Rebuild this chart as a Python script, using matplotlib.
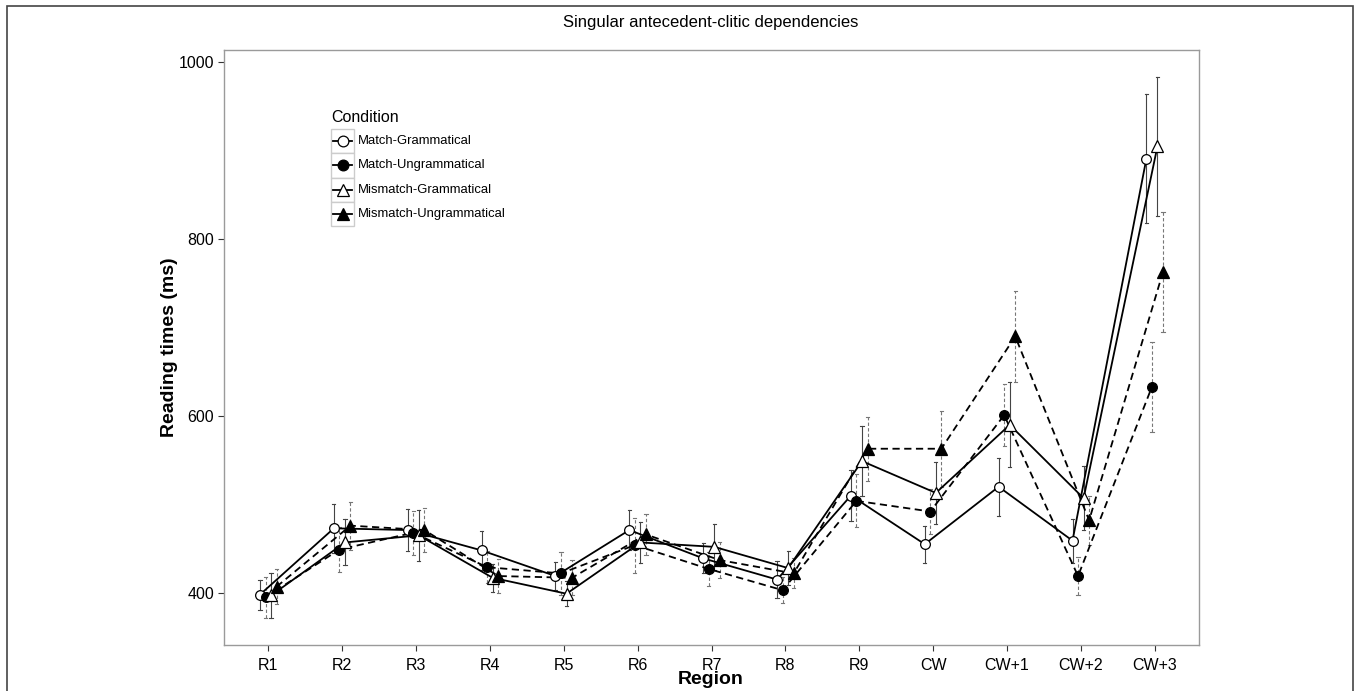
import numpy as np
import matplotlib
matplotlib.use('Agg')
import matplotlib.pyplot as plt
from matplotlib.lines import Line2D
from matplotlib.patches import Rectangle

plt.rcParams['font.family'] = ['Liberation Sans', 'DejaVu Sans']

# data (ms)
regions = ['R1', 'R2', 'R3', 'R4', 'R5', 'R6', 'R7', 'R8', 'R9', 'CW', 'CW+1', 'CW+2', 'CW+3']
conditions = ['Match-Grammatical', 'Match-Ungrammatical', 'Mismatch-Grammatical', 'Mismatch-Ungrammatical']

match_gram = [398, 473, 471, 448, 419, 471, 439, 415, 510, 455, 520, 459, 891]
match_ungram = [395, 449, 468, 429, 422, 454, 427, 403, 504, 492, 601, 419, 633]
mismatch_gram = [397, 457, 465, 417, 399, 457, 452, 428, 549, 513, 590, 507, 905]
mismatch_ungram = [407, 476, 471, 419, 417, 466, 437, 422, 563, 563, 690, 482, 763]

match_gram_err = [17, 28, 24, 22, 16, 23, 17, 21, 29, 21, 33, 25, 73]
match_ungram_err = [23, 25, 25, 18, 24, 31, 19, 15, 30, 25, 35, 22, 51]
mismatch_gram_err = [25, 26, 29, 16, 14, 23, 26, 19, 40, 35, 48, 36, 79]
mismatch_ungram_err = [20, 27, 25, 19, 20, 23, 20, 17, 36, 43, 51, 28, 68]

W, H = 1360, 691


def fx(x):
    return x / W


def fy(y):
    return 1 - y / H


DASH = (0, (4, 2.5))

# marker / line style per condition
styles = [
    dict(marker='o', mfc='white', ms=7, ls='-'),
    dict(marker='o', mfc='black', ms=7, ls=DASH),
    dict(marker='^', mfc='white', ms=8.5, ls='-'),
    dict(marker='^', mfc='black', ms=8.5, ls=DASH),
]
means = [match_gram, match_ungram, mismatch_gram, mismatch_ungram]
errs = [match_gram_err, match_ungram_err, mismatch_gram_err, mismatch_ungram_err]

fig = plt.figure(figsize=(W / 100, H / 100), dpi=100)
ax = fig.add_axes([fx(224), fy(645), fx(1199) - fx(224), fy(50) - fy(645)])

x = np.arange(1, len(regions) + 1)
dodge = 0.3
offsets = (np.arange(4) - 1.5) * dodge / 4
cap = 0.022

for i in range(4):
    xs = x + offsets[i]
    m = np.array(means[i])
    e = np.array(errs[i])
    st = styles[i]
    solid = st['ls'] == '-'
    ecol = '#444444' if solid else '#777777'
    # error bars
    for xx, lo, hi in zip(xs, m - e, m + e):
        ax.plot([xx, xx], [lo, hi], color=ecol, lw=0.8, ls='-' if solid else (0, (3, 2)), zorder=2)
        ax.plot([xx - cap, xx + cap], [lo, lo], color=ecol, lw=0.8, zorder=2)
        ax.plot([xx - cap, xx + cap], [hi, hi], color=ecol, lw=0.8, zorder=2)
    ax.plot(xs, m, color='black', lw=1.3, ls=st['ls'], zorder=3)
    ax.plot(xs, m, ls='none', marker=st['marker'], ms=st['ms'], mfc=st['mfc'],
            mec='black', mew=0.9, zorder=4)

ax.set_xlim(0.4, len(regions) + 0.6)
ax.set_ylim(341, 1014)
ax.set_xticks(x)
ax.set_xticklabels(regions)
ax.set_yticks([400, 600, 800, 1000])

for sp in ax.spines.values():
    sp.set_color('#9a9a9a')
    sp.set_linewidth(1.0)
ax.tick_params(colors='#333333', length=4, width=0.8, labelsize=11.5, labelcolor='black')
ax.tick_params(axis='x', pad=5)
ax.tick_params(axis='y', pad=3)

# titles
fig.text(fx(711), fy(22), 'Singular antecedent-clitic dependencies', ha='center', va='center', fontsize=12)
fig.text(fx(170), fy(347), 'Reading times (ms)', rotation=90, ha='center', va='center',
         fontsize=14, fontweight='bold')
fig.text(fx(711), fy(680), 'Region', ha='center', va='center', fontsize=14, fontweight='bold')

# legend drawn ggplot style: boxed keys
fig.text(fx(331), fy(118), 'Condition', ha='left', va='center', fontsize=11.5)
key_top = 129
key_h = 24.3
for i, lab in enumerate(conditions):
    st = styles[i]
    y0 = key_top + i * key_h
    yc = y0 + key_h / 2
    fig.add_artist(Rectangle((fx(331), fy(y0 + key_h)), fx(354) - fx(331), fy(y0) - fy(y0 + key_h),
                             transform=fig.transFigure, fc='white', ec='#cccccc', lw=1.0))
    fig.add_artist(Line2D([fx(333), fx(352)], [fy(yc), fy(yc)], transform=fig.transFigure,
                          color='black', lw=1.3, ls='-'))
    fig.add_artist(Line2D([fx(342.5)], [fy(yc)], transform=fig.transFigure, ls='none',
                          marker=st['marker'], ms=st['ms'] * 1.1, mfc=st['mfc'], mec='black', mew=0.9))
    fig.text(fx(358), fy(yc), lab, ha='left', va='center', fontsize=9.4)

# outer frame
fig.add_artist(Rectangle((fx(7), fy(700)), fx(1353) - fx(7), fy(6) - fy(700),
                         transform=fig.transFigure, fc='none', ec='#444444', lw=1.2))

fig.savefig('out.png', dpi=100)
